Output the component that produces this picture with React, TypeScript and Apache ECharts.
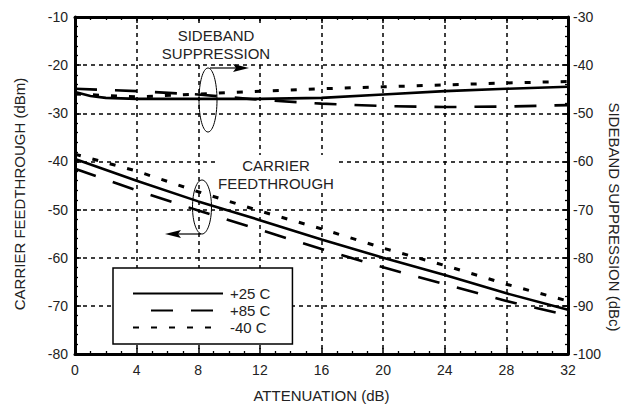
import React, { useEffect, useRef } from "react";
import * as echarts from "echarts";

// Attenuation (dB) sample points
const carrierX = [0, 4, 8, 12, 16, 20, 24, 28, 32];
// Carrier feedthrough (dBm), left axis
const carrier25 = [-39.5, -44, -48.3, -52.2, -56.2, -60, -63.6, -67.4, -70.8];
const carrier85 = [-41.5, -46, -50.2, -54.2, -58.2, -62, -65.5, -69, -72];
const carrierM40 = [-38.5, -42, -46.3, -50.3, -54, -58, -61.6, -65.5, -69];

// Sideband suppression (dBc), right axis
const side25X = [0, 1, 2, 4, 8, 12, 16, 20, 24, 28, 32];
const side25 = [-45.6, -46.4, -46.8, -47, -47, -47, -46.8, -46.1, -45.4, -44.9, -44.5];
const sideX = [0, 4, 8, 12, 16, 20, 24, 28, 32];
const side85 = [-44.9, -45.4, -46.1, -47.2, -48, -48.5, -48.7, -48.6, -48.3];
const sideM40 = [-46, -46.6, -46, -45.4, -44.9, -44.5, -44.1, -43.7, -43.4];

const legendNames = ["+25 C", "+85 C", "-40 C"];
const xTitle = "ATTENUATION (dB)";
const yLeftTitle = "CARRIER FEEDTHROUGH (dBm)";
const yRightTitle = "SIDEBAND SUPPRESSION (dBc)";

const FONT = "Liberation Sans, Arial, Helvetica, sans-serif";
const TXT = "#222";

const zip = (xs: number[], ys: number[]) => xs.map((x, i) => [x, ys[i]]);

const styles = [
  { type: "solid" as any, width: 2.6 },
  { type: [22, 18] as any, width: 2.6 },
  { type: [6, 12] as any, width: 3 },
];

export default function App() {
  const ref = useRef<HTMLDivElement>(null);
  useEffect(() => {
    if (!ref.current) return;
    const chart = echarts.init(ref.current, null, { renderer: "svg" });
    const axisLine = { show: true, onZero: false, lineStyle: { color: "#000", width: 3 } };
    const tick = { show: true, inside: true, length: 6, lineStyle: { color: "#000", width: 1.5 } };
    const minor = (n: number) => ({
      show: true,
      splitNumber: n,
      length: 3,
      lineStyle: { color: "#000", width: 1.3 },
    });
    const grid = {
      show: true,
      lineStyle: { color: "#000", width: 1.5, type: [4, 4] as any },
    };
    const label = { color: TXT, fontSize: 14, fontFamily: FONT };
    const nameStyle = { color: TXT, fontSize: 15, fontFamily: FONT };

    const mk = (name: string, xs: number[], ys: number[], idx: number, yAxisIndex: number) => ({
      type: "line",
      name,
      data: zip(xs, ys),
      yAxisIndex,
      xAxisIndex: 0,
      symbol: "none",
      showSymbol: false,
      silent: true,
      lineStyle: { color: "#000", ...styles[idx] },
      itemStyle: { color: "#000" },
      z: 3,
    });

    chart.setOption({
      animation: false,
      backgroundColor: "#fff",
      textStyle: { fontFamily: FONT },
      grid: { left: 75, right: 61, top: 17, bottom: 54, containLabel: false },
      xAxis: [
        {
          type: "value",
          min: 0,
          max: 32,
          interval: 4,
          position: "bottom",
          axisLine,
          axisTick: tick,
          minorTick: minor(4),
          splitLine: grid,
          axisLabel: { ...label, margin: 9 },
          name: xTitle,
          nameLocation: "middle",
          nameGap: 34,
          nameTextStyle: nameStyle,
        },
        {
          type: "value",
          min: 0,
          max: 32,
          interval: 4,
          position: "top",
          axisLine,
          axisTick: tick,
          minorTick: minor(4),
          splitLine: { show: false },
          axisLabel: { show: false },
        },
      ],
      yAxis: [
        {
          type: "value",
          min: -80,
          max: -10,
          interval: 10,
          position: "left",
          axisLine,
          axisTick: tick,
          minorTick: minor(5),
          splitLine: grid,
          axisLabel: { ...label, margin: 7 },
        },
        {
          type: "value",
          min: -100,
          max: -30,
          interval: 10,
          position: "right",
          axisLine,
          axisTick: tick,
          minorTick: minor(5),
          splitLine: { show: false },
          axisLabel: { ...label, margin: 5 },
        },
      ],
      legend: {
        orient: "vertical",
        left: 113,
        top: 268,
        padding: [18, 22, 9, 19],
        itemWidth: 90,
        itemHeight: 14,
        itemGap: 2,
        backgroundColor: "#fff",
        borderColor: "#000",
        borderWidth: 1.5,
        borderRadius: 0,
        selectedMode: false,
        itemStyle: { color: "rgba(0,0,0,0)", borderWidth: 0, opacity: 0 },
        textStyle: { color: TXT, fontSize: 15, fontFamily: FONT, padding: [0, 0, 0, 2] },
        data: [
          { name: legendNames[0] },
          { name: legendNames[1], lineStyle: { dashOffset: 22 } },
          { name: legendNames[2] },
        ],
      },
      series: [
        mk(legendNames[0], carrierX, carrier25, 0, 0),
        mk(legendNames[1], carrierX, carrier85, 1, 0),
        mk(legendNames[2], carrierX, carrierM40, 2, 0),
        mk(legendNames[0], side25X, side25, 0, 1),
        mk(legendNames[1], sideX, side85, 1, 1),
        mk(legendNames[2], sideX, sideM40, 2, 1),
      ],
      graphic: [
        {
          type: "text",
          x: 19,
          y: 194,
          rotation: Math.PI / 2,
          style: {
            text: yLeftTitle,
            align: "center",
            verticalAlign: "middle",
            font: `15px ${FONT}`,
            fill: TXT,
          },
        },
        {
          type: "text",
          x: 614,
          y: 217,
          rotation: -Math.PI / 2,
          style: {
            text: yRightTitle,
            align: "center",
            verticalAlign: "middle",
            font: `15px ${FONT}`,
            fill: TXT,
          },
        },
        {
          type: "text",
          z: 10,
          style: {
            text: "SIDEBAND\nSUPPRESSION",
            x: 216,
            y: 44,
            align: "center",
            verticalAlign: "middle",
            font: `15px ${FONT}`,
            lineHeight: 18,
            fill: TXT,
            backgroundColor: "#fff",
            padding: [1, 2],
          },
        },
        {
          type: "text",
          z: 10,
          style: {
            text: "CARRIER\nFEEDTHROUGH",
            x: 276,
            y: 174,
            align: "center",
            verticalAlign: "middle",
            font: `15px ${FONT}`,
            lineHeight: 18,
            fill: TXT,
            backgroundColor: "#fff",
            padding: [1, 2],
          },
        },
        {
          type: "ellipse",
          z: 10,
          shape: { cx: 208, cy: 100, rx: 9, ry: 32 },
          style: { fill: "none", stroke: "#000", lineWidth: 1 },
        },
        {
          type: "line",
          z: 10,
          shape: { x1: 210, y1: 68, x2: 236, y2: 68 },
          style: { stroke: "#000", lineWidth: 1.2 },
        },
        {
          type: "polygon",
          z: 10,
          shape: { points: [[233, 64], [249, 68], [233, 72], [236, 68]] },
          style: { fill: "#000" },
        },
        {
          type: "ellipse",
          z: 10,
          shape: { cx: 202, cy: 207, rx: 9.5, ry: 27 },
          style: { fill: "none", stroke: "#000", lineWidth: 1 },
        },
        {
          type: "line",
          z: 10,
          shape: { x1: 201, y1: 234, x2: 178, y2: 234 },
          style: { stroke: "#000", lineWidth: 1.2 },
        },
        {
          type: "polygon",
          z: 10,
          shape: { points: [[181, 230], [165, 234], [181, 238], [178, 234]] },
          style: { fill: "#000" },
        },
      ],
    });
    return () => chart.dispose();
  }, []);
  return (
    <div
      ref={ref}
      style={{ position: "fixed", left: 0, top: 0, width: 629, height: 408, background: "#fff" }}
    />
  );
}
